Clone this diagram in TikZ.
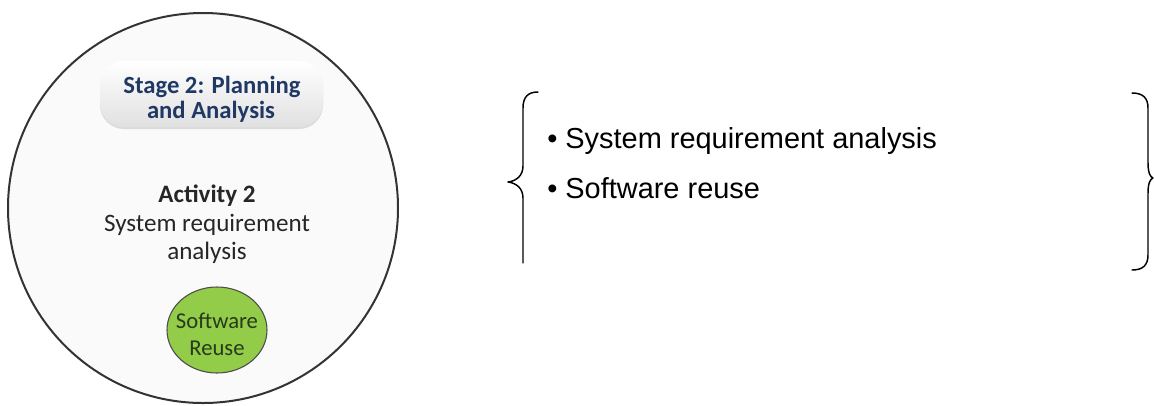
\documentclass[tikz,border=0pt]{standalone}
\usepackage{fontspec}
\setmainfont{Carlito}
\newfontfamily\arialfont{Liberation Sans}
\usetikzlibrary{shadows}
\definecolor{navy}{RGB}{31,56,100}
\definecolor{leafgreen}{RGB}{146,204,72}
\definecolor{leaftext}{RGB}{38,58,28}
\definecolor{ringfill}{RGB}{250,250,250}
\tikzset{
  ring/.style={draw=black!80, line width=1.5pt, fill=ringfill},
  stagebox/.style={rounded corners=18pt, top color=white, bottom color=black!12, draw=none,
     drop shadow={shadow xshift=0pt, shadow yshift=-1.5pt, opacity=0.25}},
  stagetxt/.style={anchor=base, text=navy, font=\fontsize{18.5}{22}\selectfont\bfseries, inner sep=0pt},
  acttxt/.style={anchor=base, text=black!85, font=\fontsize{18.8}{22}\selectfont, inner sep=0pt},
  reuse/.style={draw=black!70, line width=0.8pt, fill=leafgreen},
  reusetxt/.style={anchor=base, text=leaftext, font=\fontsize{17}{20}\selectfont, inner sep=0pt},
  listtxt/.style={anchor=base west, text=black, font=\arialfont\fontsize{21.7}{26}\selectfont, inner sep=0pt},
  bracestyle/.style={draw=black, line width=1.1pt, line cap=round, line join=round}
}
\begin{document}
\begin{tikzpicture}[x=0.75pt,y=-0.75pt]
\useasboundingbox (0,0) rectangle (1154,405);
% big circle
\path[ring] (203,208) circle[radius=195];
% stage box
\path[stagebox] (100,61) rectangle (323,127);
\node[stagetxt] (st1) at (212,93) {Stage 2: Planning};
\node[stagetxt] (st2) at (211,118) {and Analysis};
% activity
\node[acttxt, font=\fontsize{18.8}{22}\selectfont\bfseries] (a1) at (207,202) {Activity 2};
\node[acttxt] (a2) at (207,231) {System requirement};
\node[acttxt] (a3) at (207,259) {analysis};
% green circle
\path[reuse] (217,330) ellipse[x radius=50, y radius=43];
\node[reusetxt] (r1) at (217,328) {Software};
\node[reusetxt] (r2) at (217,355) {Reuse};
% left brace
\draw[bracestyle] (538,92) .. controls (528,92) and (523,97) .. (523,108)
  -- (523,166) .. controls (523,176) and (516,181) .. (508,182)
  .. controls (516,183) and (523,188) .. (523,198) -- (523,263);
% right brace
\draw[bracestyle] (1132,93) .. controls (1143,93) and (1148,98) .. (1148,108)
  -- (1148,163) .. controls (1148,172) and (1150,177) .. (1153,178)
  .. controls (1150,179) and (1148,184) .. (1148,193)
  -- (1148,255) .. controls (1148,265) and (1143,270) .. (1132,270);
% list
\node[listtxt] (l1) at (547,148) {\textbullet\ System requirement analysis};
\node[listtxt] (l2) at (547,198) {\textbullet\ Software reuse};
\end{tikzpicture}
\end{document}
